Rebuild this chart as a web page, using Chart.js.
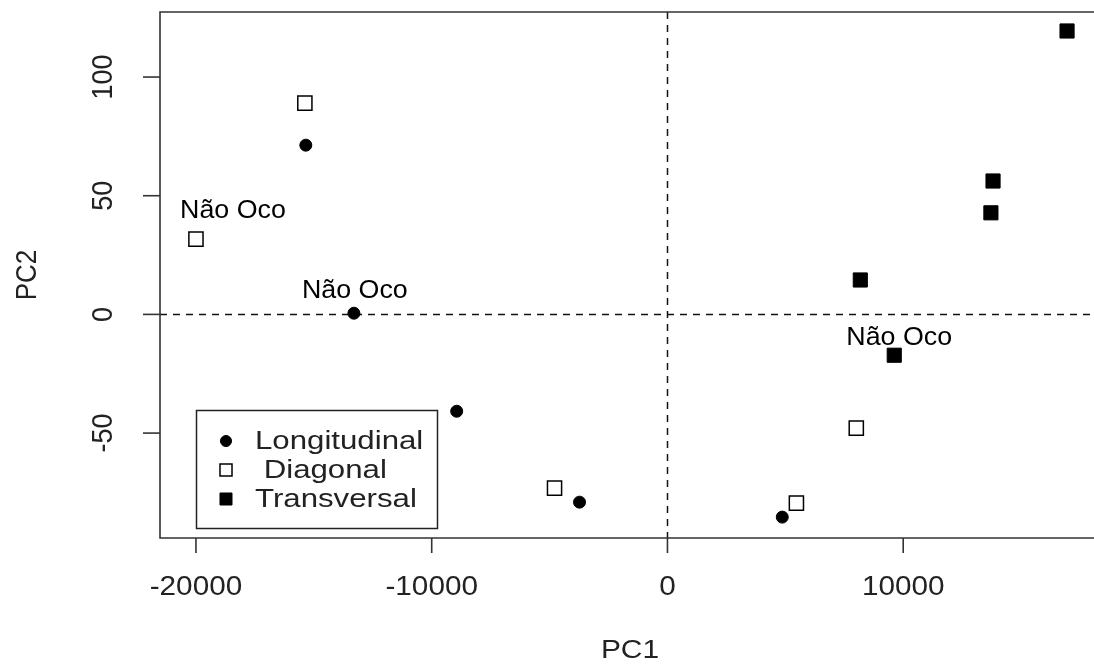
<!DOCTYPE html>
<html>
<head>
<meta charset="utf-8">
<script src="https://cdn.jsdelivr.net/npm/chart.js@4/dist/chart.umd.min.js"></script>
<style>
  html, body { margin: 0; background: #fff; }
</style>
</head>
<body>
<canvas id="myChart" width="1094" height="668"></canvas>
<script>
// series
const seriesNames = ['Longitudinal', ' Diagonal', 'Transversal'];

const longX = [-15340, -13300, -8940, -3730, 4870];
const longY = [71.3, 0.5, -40.8, -79.1, -85.4];

const diagX = [-15380, -20000, -4790, 5470, 8010];
const diagY = [89.0, 31.7, -73.2, -79.5, -47.9];

const transX = [16950, 13810, 13720, 8180, 9620];
const transY = [119.4, 56.2, 42.8, 14.5, -17.2];

const xTicks = [-20000, -10000, 0, 10000];
const yTicks = [-50, 0, 50, 100];

const noteText = 'Não Oco';
const noteX = [-18430, -13260, 9830];
const noteY = [43.5, 9.8, -10];

function toPoints(xs, ys) {
  return xs.map((x, i) => ({ x: x, y: ys[i] }));
}

const FONT = '"Liberation Sans", Arial, sans-serif';

function txt(ctx, s, x, y, size, o) {
  o = o || {};
  ctx.save();
  ctx.translate(x, y);
  ctx.scale(o.sx || 1, 1);
  if (o.rot) ctx.rotate(o.rot);
  ctx.font = size + 'px ' + FONT;
  ctx.fillStyle = o.color || '#111';
  ctx.textAlign = o.align || 'center';
  ctx.textBaseline = o.base || 'middle';
  ctx.fillText(s, 0, 0);
  ctx.restore();
}

const pointOpts = [
  { pointStyle: 'circle', radius: 6, backgroundColor: '#000', borderColor: '#000', borderWidth: 1 },
  { pointStyle: 'rect', radius: 10, backgroundColor: '#fff', borderColor: '#000', borderWidth: 1.5 },
  { pointStyle: 'rect', radius: 10, backgroundColor: '#000', borderColor: '#000', borderWidth: 1 }
];

const rPlot = {
  id: 'rPlot',
  beforeDatasetsDraw(chart) {
    const ctx = chart.ctx, a = chart.chartArea;
    const xs = chart.scales.x, ys = chart.scales.y;
    ctx.save();
    ctx.strokeStyle = '#111';
    ctx.lineWidth = 1.5;
    ctx.setLineDash([7, 6]);
    const x0 = Math.round(xs.getPixelForValue(0)) + 0.5;
    const y0 = Math.round(ys.getPixelForValue(0)) + 0.5;
    ctx.beginPath();
    ctx.moveTo(x0, a.top); ctx.lineTo(x0, a.bottom);
    ctx.moveTo(a.left, y0); ctx.lineTo(a.right, y0);
    ctx.stroke();
    ctx.restore();
  },
  afterDraw(chart) {
    const ctx = chart.ctx, a = chart.chartArea;
    const xs = chart.scales.x, ys = chart.scales.y;
    ctx.save();
    ctx.strokeStyle = '#333';
    ctx.lineWidth = 1.6;
    // box (right side falls outside the picture)
    ctx.beginPath();
    ctx.moveTo(a.right + 4, a.top); ctx.lineTo(a.left, a.top);
    ctx.lineTo(a.left, a.bottom); ctx.lineTo(a.right + 4, a.bottom);
    ctx.stroke();

    // x ticks
    xTicks.forEach(v => {
      const px = xs.getPixelForValue(v);
      ctx.beginPath();
      ctx.moveTo(px, a.bottom); ctx.lineTo(px, a.bottom + 15);
      ctx.stroke();
      txt(ctx, String(v), px, a.bottom + 50, 27, { sx: 1.1, color: '#222' });
    });
    // y ticks
    yTicks.forEach(v => {
      const py = ys.getPixelForValue(v);
      ctx.beginPath();
      ctx.moveTo(a.left, py); ctx.lineTo(a.left - 17, py);
      ctx.stroke();
      txt(ctx, String(v), a.left - 56, py, 27, { sx: 1.1, rot: -Math.PI / 2, color: '#222' });
    });
    ctx.restore();

    // axis titles
    txt(ctx, 'PC1', 630, 651, 26, { sx: 1.15, color: '#222' });
    txt(ctx, 'PC2', 28, (a.top + a.bottom) / 2, 26, { sx: 1.15, rot: -Math.PI / 2, color: '#222' });

    // notes
    noteX.forEach((v, i) => {
      txt(ctx, noteText, xs.getPixelForValue(v), ys.getPixelForValue(noteY[i]), 26, { sx: 1.03, color: '#000' });
    });

    // legend box, R style
    const lx = 196, ly = 410, lw = 241, lh = 118;
    ctx.save();
    ctx.fillStyle = '#fff';
    ctx.fillRect(lx, ly, lw, lh);
    ctx.strokeStyle = '#222';
    ctx.lineWidth = 1.5;
    ctx.strokeRect(lx + 0.5, ly + 0.5, lw, lh);
    seriesNames.forEach((name, i) => {
      const cy = ly + 31 + i * 29;
      const po = pointOpts[i];
      ctx.fillStyle = po.backgroundColor;
      ctx.strokeStyle = po.borderColor;
      ctx.lineWidth = po.borderWidth;
      Chart.helpers.drawPoint(ctx, {
        pointStyle: po.pointStyle,
        radius: po.pointStyle === 'circle' ? 5.5 : 8.5,
        rotation: 0,
        borderWidth: po.borderWidth
      }, lx + 30, cy);
      txt(ctx, name, lx + 59, cy + 1, 26, { sx: 1.2, align: 'left', color: '#222' });
    });
    ctx.restore();
  }
};

const ctx = document.getElementById('myChart');
const chart = new Chart(ctx, {
  type: 'scatter',
  data: {
    datasets: [
      Object.assign({ label: seriesNames[0], data: toPoints(longX, longY) }, pointOpts[0]),
      Object.assign({ label: seriesNames[1], data: toPoints(diagX, diagY) }, pointOpts[1]),
      Object.assign({ label: seriesNames[2], data: toPoints(transX, transY) }, pointOpts[2])
    ]
  },
  options: {
    responsive: false,
    animation: false,
    devicePixelRatio: 1,
    events: [],
    layout: { autoPadding: false, padding: { left: 160, top: 12, right: 0, bottom: 130 } },
    plugins: {
      legend: { display: false },
      tooltip: { enabled: false }
    },
    scales: {
      x: { type: 'linear', display: false, min: -21525, max: 18093 },
      y: { type: 'linear', display: false, min: -94.2, max: 127.4 }
    }
  },
  plugins: [rPlot]
});
</script>
</body>
</html>
